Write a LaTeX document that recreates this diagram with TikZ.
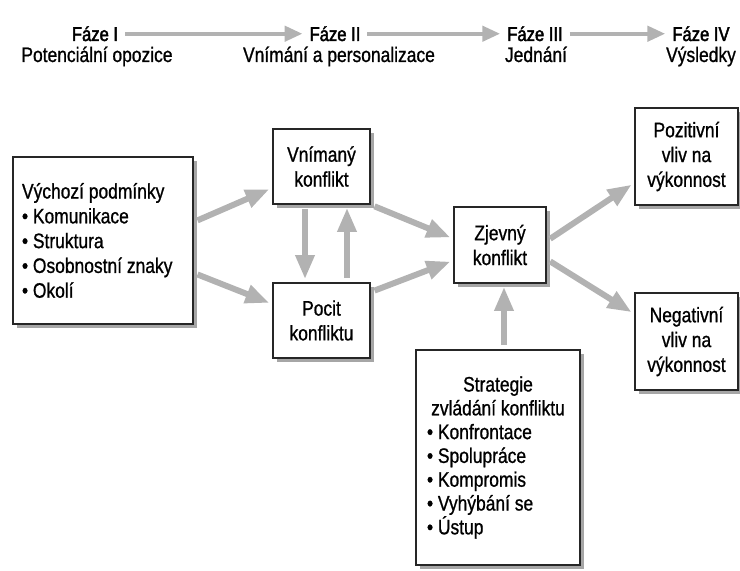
\documentclass[tikz,border=0pt]{standalone}
\usepackage{fontspec}
\setmainfont{Liberation Sans}[FakeStretch=0.83, FakeBold=0.9]
\usetikzlibrary{arrows.meta, shadows, positioning}

\tikzset{
    box/.style={draw=black!85, line width=0.8pt, fill=white, align=center, inner sep=0pt,
        drop shadow={shadow xshift=2pt, shadow yshift=-2pt, opacity=1, fill=black!35}},
    flow/.style={color=black!30, line width=3pt, -{Triangle[length=12pt,width=9pt]},
        shorten >=1.5pt, shorten <=2pt},
    phase/.style={anchor=base, inner sep=3.33pt},
    phaseflow/.style={color=black!30, line width=2.2pt, -{Triangle[length=9pt,width=7.5pt]}},
}

\begin{document}
\begin{tikzpicture}[x=0.5pt, y=-0.5pt, on grid, font=\fontsize{10.5pt}{12.4pt}\selectfont]
    \useasboundingbox (0,0) rectangle (740,571);

    % phases along the top
    \node[phase, font=\addfontfeature{FakeBold=2.2}] (f1) at (95,41) {Fáze I};
    \node[phase, font=\addfontfeature{FakeBold=2.2}] (f2) at (335,41) {Fáze II};
    \node[phase, font=\addfontfeature{FakeBold=2.2}] (f3) at (535,41) {Fáze III};
    \node[phase, font=\addfontfeature{FakeBold=2.2}] (f4) at (701,41) {Fáze IV};
    \node[phase] (d1) at (97,62) {Potenciální opozice};
    \node[phase] (d2) at (339,62) {Vnímání a personalizace};
    \node[phase] (d3) at (536,62) {Jednání};
    \node[phase] (d4) at (701,62) {Výsledky};

    \path[phaseflow] (f1) edge (f2) (f2) edge (f3) (f3) edge (f4);

    % boxes
    \node[box, text width=81pt, inner xsep=4.5pt, minimum height=83.5pt, align=flush left] (vych) at (103,240.5)
        {Výchozí podmínky\\• Komunikace\\• Struktura\\• Osobnostní znaky\\• Okolí};
    \node[box, minimum width=48.5pt, minimum height=37.5pt] (vnim) at (321.5,166.5) {Vnímaný\\konflikt};
    \node[box, minimum width=48.5pt, minimum height=37.5pt] (pocit) [below=77pt of vnim] {Pocit\\konfliktu};
    \node[box, minimum width=46pt, minimum height=38pt] (zjev) at (500,245) {Zjevný\\konflikt};
    \node[box, minimum width=51.5pt, minimum height=48.5pt] (poz) at (686.5,156.5) {Pozitivní\\vliv na\\výkonnost};
    \node[box, minimum width=51.5pt, minimum height=48.5pt] (neg) [below=92.5pt of poz] {Negativní\\vliv na\\výkonnost};
    \node[box, text width=71pt, inner xsep=5.5pt, minimum height=107.5pt, align=flush left,
        font=\fontsize{10.5pt}{11.9pt}\selectfont] (strat) at (498,457.5)
        {{\centering Strategie\\zvládání konfliktu\par}
        • Konfrontace\\• Spolupráce\\• Kompromis\\• Vyhýbání se\\• Ústup};

    \path[flow]
    ([yshift=9.25pt]vych.east) edge ([yshift=-10.75pt]vnim.west)
    ([yshift=-16.25pt]vych.east) edge ([yshift=8.25pt]pocit.west)
    ([xshift=-8.25pt]vnim.south) edge ([xshift=-8.25pt]pocit.north)
    ([xshift=12.75pt]pocit.north) edge ([xshift=12.75pt]vnim.south)
    (vnim.south east) edge ([yshift=3.2pt]zjev.west)
    ([yshift=14.25pt]pocit.east) edge ([yshift=-7.75pt]zjev.west)
    ([yshift=2pt]zjev.east) edge ([yshift=-13.25pt]poz.west)
    ([yshift=-7.15pt]zjev.east) edge ([yshift=13.85pt]neg.west)
    ([xshift=3pt]strat.north) edge ([xshift=2pt]zjev.south)
    ;
\end{tikzpicture}
\end{document}
